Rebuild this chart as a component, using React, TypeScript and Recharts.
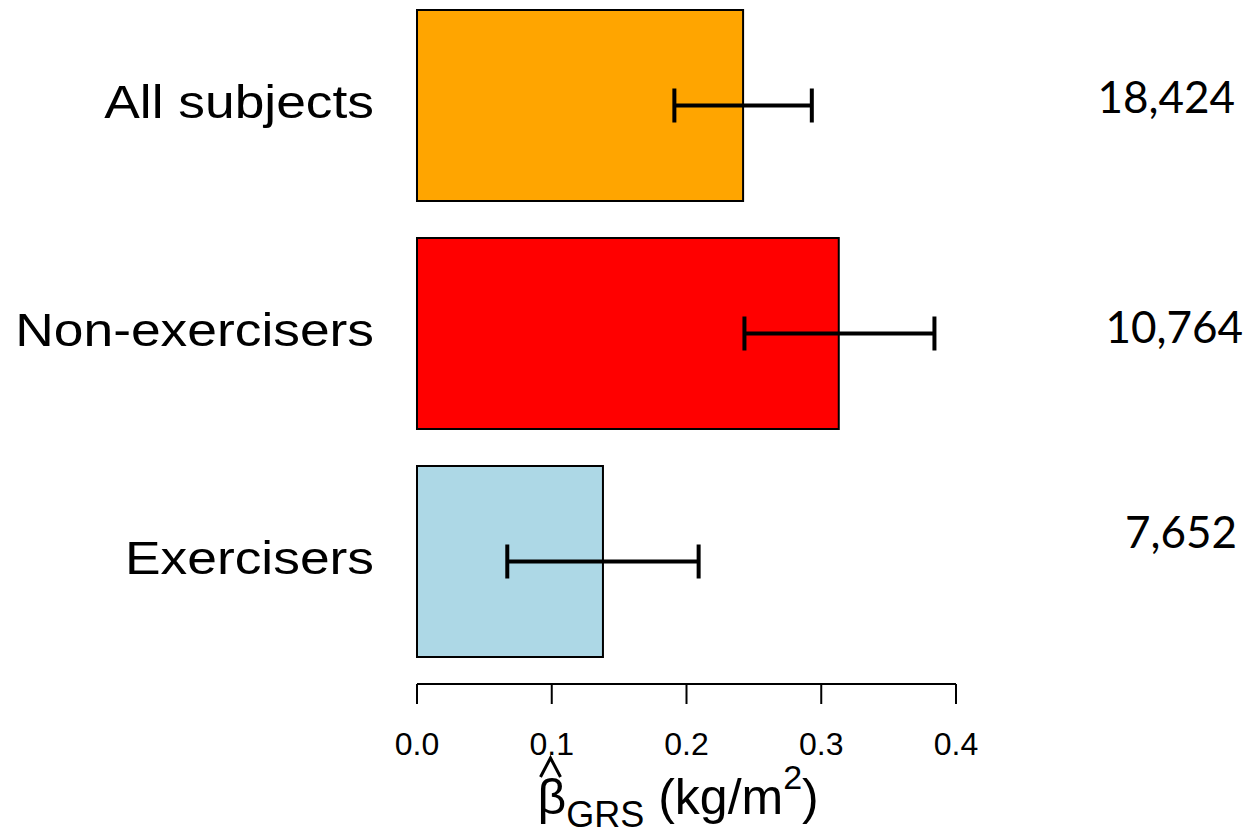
import React from "react"
import { Bar, BarChart, Cell, ErrorBar, Label, XAxis, YAxis } from "recharts"

const groups = ["All subjects", "Non-exercisers", "Exercisers"]
const beta = [0.242, 0.313, 0.138]
const ciLow = [0.191, 0.243, 0.067]
const ciHigh = [0.293, 0.384, 0.209]
const counts = ["18,424", "10,764", "7,652"]
const xTicks = [0, 0.1, 0.2, 0.3, 0.4]

const colors = ["#FFA500", "#FF0000", "#ADD8E6"]

const data = groups.map((name, i) => ({
  name,
  beta: beta[i],
  err: [beta[i] - ciLow[i], ciHigh[i] - beta[i]],
}))

const rFont = "'Liberation Sans', Arial, sans-serif"

// the counts were typed in by hand on the slide, so they sit a bit unevenly
const countNudge = [
  { dx: 279, dy: 8 },
  { dx: 287, dy: 10 },
  { dx: 281, dy: -13 },
]

function GroupTick(props: any) {
  const { x, y, payload } = props
  return (
    <text
      transform={`translate(${x - 43},${y + 13}) scale(1.16,1)`}
      textAnchor="end"
      fontFamily={rFont}
      fontSize={46}
      fill="#000"
    >
      {payload.value}
    </text>
  )
}

function CountTick(props: any) {
  const { x, y, index } = props
  const n = countNudge[index] || { dx: 280, dy: 0 }
  return (
    <text
      x={x + n.dx}
      y={y + n.dy}
      textAnchor="end"
      fontFamily="Lato, 'Open Sans', sans-serif"
      fontSize={44}
      fill="#000"
    >
      {counts[index]}
    </text>
  )
}

function ValueTick(props: any) {
  const { x, y, payload } = props
  return (
    <text x={x} y={y + 51} textAnchor="middle" fontFamily={rFont} fontSize={32} fill="#000">
      {Number(payload.value).toFixed(1)}
    </text>
  )
}

function AxisTitle(props: any) {
  const { x, y, width } = props.viewBox
  const cx = x + width / 2
  const left = cx - 149
  const base = y + 130
  return (
    <g>
      <polyline
        points={`${left + 3},${y + 93} ${left + 13},${y + 74} ${left + 23},${y + 93}`}
        fill="none"
        stroke="#000"
        strokeWidth={3}
      />
      <text x={left} y={base} fontFamily={rFont} fontSize={50} fill="#000">
        β
        <tspan fontSize={36} dy={13}>GRS</tspan>
        <tspan fontSize={50} dy={-13}>{" (kg/m"}</tspan>
        <tspan fontSize={34} dy={-25}>2</tspan>
        <tspan fontSize={50} dy={25}>)</tspan>
      </text>
    </g>
  )
}

export default function App() {
  return (
    <div style={{ position: "absolute", left: 0, top: -9, background: "#fff" }}>
      <BarChart
        width={1251}
        height={846}
        data={data}
        layout="vertical"
        margin={{ top: 0, right: 0, bottom: 0, left: 0 }}
      >
        <XAxis
          type="number"
          domain={[0, 0.4]}
          ticks={xTicks}
          height={153}
          stroke="#000"
          axisLine={{ stroke: "#000", strokeWidth: 2 }}
          tickLine={{ stroke: "#000", strokeWidth: 2 }}
          tickSize={20}
          tickMargin={0}
          tick={ValueTick}
        >
          <Label content={AxisTitle} />
        </XAxis>
        <YAxis
          yAxisId="left"
          type="category"
          dataKey="name"
          width={417}
          axisLine={false}
          tickLine={false}
          tickSize={0}
          tickMargin={0}
          padding={{ top: 0, bottom: 9 }}
          tick={GroupTick}
        />
        <YAxis
          yAxisId="right"
          orientation="right"
          type="category"
          dataKey="name"
          width={295}
          axisLine={false}
          tickLine={false}
          tickSize={0}
          tickMargin={0}
          padding={{ top: 0, bottom: 9 }}
          tick={CountTick}
        />
        <Bar
          dataKey="beta"
          yAxisId="left"
          barSize={191}
          stroke="#000"
          strokeWidth={2}
          isAnimationActive={false}
        >
          {data.map((d, i) => (
            <Cell key={d.name} fill={colors[i]} />
          ))}
          <ErrorBar
            dataKey="err"
            direction="x"
            width={17}
            stroke="#000"
            strokeWidth={4}
            isAnimationActive={false}
          />
        </Bar>
      </BarChart>
    </div>
  )
}
